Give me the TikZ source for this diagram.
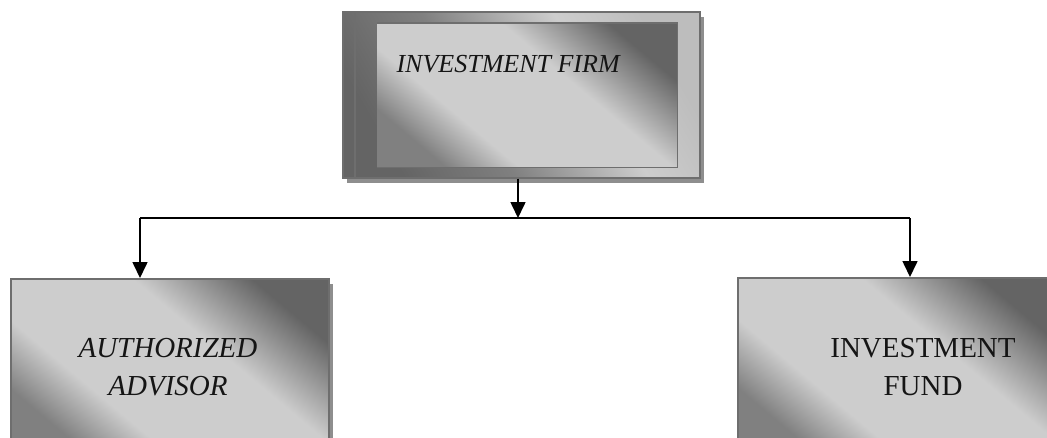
\documentclass[tikz,border=0pt]{standalone}
\usepackage{fontspec}
\setmainfont{Liberation Serif}
\usetikzlibrary{arrows.meta,shadows}
\definecolor{dk}{HTML}{646464}
\definecolor{dkb}{HTML}{808080}
\definecolor{lt}{HTML}{CDCDCD}
\definecolor{edgec}{HTML}{6E6E6E}
\definecolor{shd}{HTML}{8E8E8E}
\definecolor{ink}{HTML}{151515}
\pgfdeclareverticalshading{boxshade}{100bp}{color(0bp)=(dkb); color(25bp)=(dkb); color(36bp)=(lt); color(59bp)=(lt); color(75bp)=(dk); color(100bp)=(dk)}
\pgfdeclareverticalshading{frameshade}{100bp}{color(0bp)=(dk); color(25bp)=(dk); color(42bp)=(dkb); color(62bp)=(lt); color(75bp)=(lt!85!dk); color(100bp)=(lt!85!dk)}
\begin{document}
\begin{tikzpicture}[x=1pt,y=-1pt,
  box/.style={rectangle, anchor=north west, inner sep=0pt, draw=edgec, line width=1.6pt,
    shading=boxshade, shading angle=-40,
    drop shadow={shadow xshift=4pt, shadow yshift=-5pt, fill=shd, opacity=1}},
  framebox/.style={box, shading=frameshade, shading angle=-60},
  innerbox/.style={rectangle, anchor=north west, inner sep=0pt,
    shading=boxshade, shading angle=-40},
  label/.style={anchor=base, text=ink, font=\fontsize{29}{38}\selectfont, align=center},
  conn/.style={draw=black, line width=1.6pt},
  arr/.style={conn, -{Triangle[length=16pt,width=15pt]}}
]
\useasboundingbox (0,0) rectangle (1047,437);

% top box
\node[framebox, minimum width=357pt, minimum height=166pt] (firm) at (342,11) {};
\node[innerbox, minimum width=300pt, minimum height=144pt] (firmin) at (377,23) {};
\draw[draw=edgec, line width=1.4pt] (firmin.north west) -- (firmin.north east) -- (firmin.south east) -- (firmin.south west);
\draw[draw=edgec, line width=1.4pt] (firm.north west -| 355,0) -- (firm.south west -| 355,0);
\node[anchor=base west, text=ink, font=\fontsize{26}{30}\selectfont\itshape] (firmtxt) at (393,72) {INVESTMENT FIRM};

% bottom boxes
\node[box, minimum width=318pt, minimum height=175pt] (adv) at (10,278) {};
\node[box, minimum width=320pt, minimum height=175pt] (fund) at (737,277) {};
\node[label, font=\fontsize{29}{38}\selectfont\itshape] (advtxt) at (168,395) {AUTHORIZED\\ADVISOR};
\node[label] (fundtxt) at (923,395) {INVESTMENT\\FUND};

% connectors
\coordinate (j) at (518,218);
\coordinate (jl) at (140,218);
\coordinate (jr) at (910,218);
\draw[arr] (firm.south -| j) -- (j);
\draw[conn] (jl) -- (jr);
\draw[arr] (jl) -- (adv.north -| jl);
\draw[arr] (jr) -- (fund.north -| jr);
\end{tikzpicture}
\end{document}
